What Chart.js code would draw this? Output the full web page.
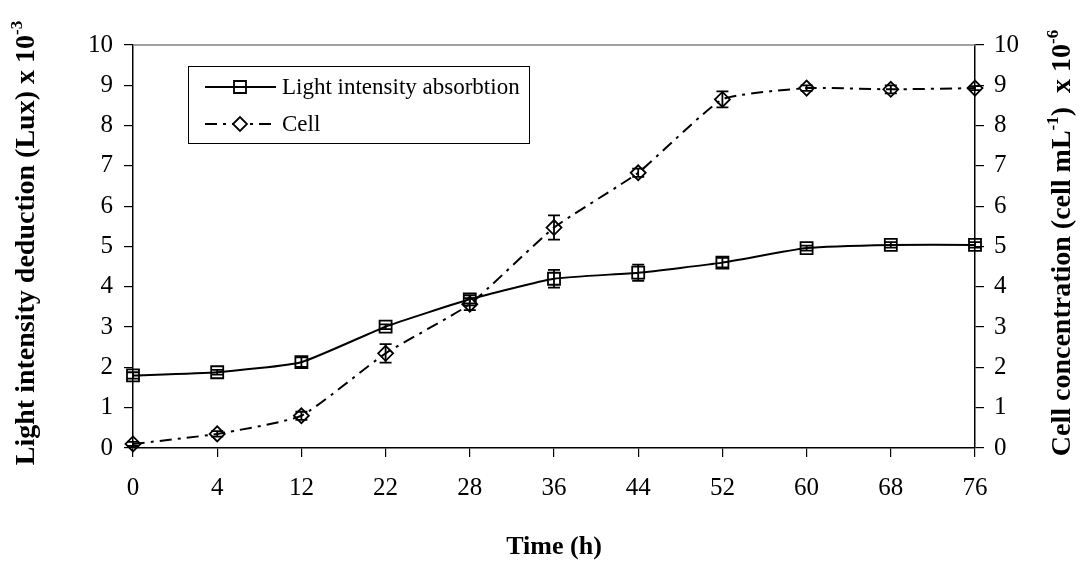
<!DOCTYPE html>
<html>
<head>
<meta charset="utf-8">
<title>Light intensity deduction and cell concentration</title>
<script src="https://cdn.jsdelivr.net/npm/chart.js@4.4.0/dist/chart.umd.min.js"></script>
<style>
  html, body { margin: 0; padding: 0; background: #fff; }
  #chart { display: block; }
</style>
</head>
<body>
<canvas id="chart" width="1081" height="563"></canvas>
<script>
// time points (h)
const hours = ['0', '4', '12', '22', '28', '36', '44', '52', '60', '68', '76'];

// light intensity deduction (Lux x 10^-3)
const light = [1.80, 1.88, 2.13, 3.01, 3.69, 4.20, 4.35, 4.60, 4.96, 5.04, 5.04];
const lightErr = [0.08, 0.06, 0.12, 0.06, 0.10, 0.22, 0.20, 0.12, 0.06, 0.07, 0.07];

// cell concentration (cell/mL x 10^-6)
const cell = [0.10, 0.35, 0.80, 2.35, 3.57, 5.47, 6.83, 8.65, 8.93, 8.90, 8.93];
const cellErr = [0.05, 0.07, 0.10, 0.23, 0.15, 0.30, 0.10, 0.20, 0.07, 0.10, 0.05];

const yTicks = [0, 1, 2, 3, 4, 5, 6, 7, 8, 9, 10];

const serif = '"Liberation Serif", "Times New Roman", serif';

const errorBars = {
    id: 'errorBars',
    afterDatasetsDraw(chart) {
        const ctx = chart.ctx;
        const xs = chart.scales.x;
        const sets = [
            [light, lightErr, chart.scales.y],
            [cell, cellErr, chart.scales.y2]
        ];
        ctx.save();
        ctx.strokeStyle = '#000';
        ctx.lineWidth = 1.8;
        sets.forEach(([vals, errs, ys]) => {
            vals.forEach((v, i) => {
                const px = xs.getPixelForValue(i);
                const top = ys.getPixelForValue(v + errs[i]);
                const bot = ys.getPixelForValue(v - errs[i]);
                ctx.beginPath();
                ctx.moveTo(px, top);
                ctx.lineTo(px, bot);
                ctx.moveTo(px - 6, top);
                ctx.lineTo(px + 6, top);
                ctx.moveTo(px - 6, bot);
                ctx.lineTo(px + 6, bot);
                ctx.stroke();
            });
        });
        ctx.restore();
    }
};

// rotated axis title with superscripts
const drawSideTitle = (ctx, cx, cy, parts) => {
    const big = 'bold 28px ' + serif;
    const small = 'bold 17px ' + serif;
    ctx.save();
    ctx.translate(cx, cy);
    ctx.rotate(-Math.PI / 2);
    let total = 0;
    parts.forEach(p => {
        ctx.font = p.sup ? small : big;
        p.w = ctx.measureText(p.text).width;
        total += p.w;
    });
    let pos = -total / 2;
    ctx.fillStyle = '#000';
    ctx.textBaseline = 'alphabetic';
    parts.forEach(p => {
        ctx.font = p.sup ? small : big;
        ctx.fillText(p.text, pos, p.sup ? -3 : 9);
        pos += p.w;
    });
    ctx.restore();
};

const titles = {
    id: 'titles',
    afterDraw(chart) {
        const { ctx, chartArea: a } = chart;
        ctx.save();
        // top frame line
        ctx.strokeStyle = '#808080';
        ctx.lineWidth = 1.5;
        ctx.beginPath();
        ctx.moveTo(a.left, a.top);
        ctx.lineTo(a.right, a.top);
        ctx.stroke();

        ctx.fillStyle = '#000';
        ctx.font = 'bold 26px ' + serif;
        ctx.textAlign = 'center';
        ctx.textBaseline = 'middle';
        ctx.fillText('Time (h)', (a.left + a.right) / 2, 547);
        ctx.restore();

        drawSideTitle(ctx, 25, 243, [
            { text: 'Light intensity deduction (Lux) x 10' },
            { text: '-3', sup: true }
        ]);
        drawSideTitle(ctx, 1061, 243, [
            { text: 'Cell concentration (cell mL' },
            { text: '-1', sup: true },
            { text: ')  x 10' },
            { text: '-6', sup: true }
        ]);
    }
};

const legendBox = {
    id: 'legendBox',
    afterDraw(chart) {
        const { ctx, chartArea: a } = chart;
        const bx = a.left + 55, by = a.top + 21, bw = 341, bh = 77;
        ctx.save();
        ctx.fillStyle = '#fff';
        ctx.fillRect(bx, by, bw, bh);
        ctx.strokeStyle = '#000';
        ctx.lineWidth = 1;
        ctx.strokeRect(bx + 0.5, by + 0.5, bw, bh);
        chart.data.datasets.forEach((ds, i) => {
            const y = by + 21 + i * 37;
            const mx = bx + 52;
            ctx.strokeStyle = '#000';
            ctx.lineWidth = 2;
            ctx.setLineDash(ds.borderDash || []);
            ctx.beginPath();
            ctx.moveTo(bx + 17, y);
            ctx.lineTo(bx + 88, y);
            ctx.stroke();
            ctx.setLineDash([]);
            ctx.lineWidth = 1.8;
            ctx.beginPath();
            if (ds.pointStyle === 'rect') {
                ctx.rect(mx - 6, y - 6, 12, 12);
            } else {
                ctx.moveTo(mx - 7, y);
                ctx.lineTo(mx, y - 7);
                ctx.lineTo(mx + 7, y);
                ctx.lineTo(mx, y + 7);
                ctx.closePath();
                ctx.fillStyle = '#fff';
                ctx.fill();
            }
            ctx.stroke();
            ctx.fillStyle = '#000';
            ctx.font = '23px ' + serif;
            ctx.textBaseline = 'middle';
            ctx.fillText(ds.label, bx + 94, y + 1);
        });
        ctx.restore();
    }
};

const axisGrid = {
    display: true,
    drawOnChartArea: false,
    drawTicks: true,
    tickLength: 9,
    color: '#000',
    lineWidth: 1.2
};

const tickFont = { family: serif, size: 25 };

const ctx = document.getElementById('chart').getContext('2d');
new Chart(ctx, {
    type: 'line',
    data: {
        labels: hours,
        datasets: [
            {
                label: 'Light intensity absorbtion',
                data: light,
                yAxisID: 'y',
                borderColor: '#000',
                borderWidth: 2,
                pointStyle: 'rect',
                pointRadius: 8.5,
                pointBorderWidth: 1.8,
                pointBorderColor: '#000',
                pointBackgroundColor: 'rgba(0,0,0,0)',
                tension: 0.15,
                clip: false
            },
            {
                label: 'Cell',
                data: cell,
                yAxisID: 'y2',
                borderColor: '#000',
                borderWidth: 2,
                borderDash: [12, 6, 3, 6],
                pointStyle: 'rectRot',
                pointRadius: 7.5,
                pointBorderWidth: 1.8,
                pointBorderColor: '#000',
                pointBackgroundColor: 'rgba(0,0,0,0)',
                tension: 0.15,
                clip: false
            }
        ]
    },
    options: {
        responsive: false,
        animation: false,
        layout: { padding: { top: 45, left: 0, right: 0, bottom: 0 } },
        plugins: {
            legend: { display: false },
            tooltip: { enabled: false }
        },
        scales: {
            x: {
                type: 'category',
                offset: false,
                grid: axisGrid,
                border: { display: true, color: '#000', width: 1.5 },
                ticks: { font: tickFont, color: '#000', padding: 16, maxRotation: 0, autoSkip: false },
                afterFit(scale) { scale.height = 115; }
            },
            y: {
                position: 'left',
                min: 0,
                max: 10,
                grid: axisGrid,
                border: { display: true, color: '#000', width: 1.5 },
                ticks: { font: tickFont, color: '#000', padding: 11, stepSize: 1 },
                afterBuildTicks(scale) { scale.ticks = yTicks.map(v => ({ value: v })); },
                afterFit(scale) { scale.width = 133; }
            },
            y2: {
                position: 'right',
                min: 0,
                max: 10,
                grid: axisGrid,
                border: { display: true, color: '#000', width: 1.5 },
                ticks: { font: tickFont, color: '#000', padding: 10, stepSize: 1 },
                afterBuildTicks(scale) { scale.ticks = yTicks.map(v => ({ value: v })); },
                afterFit(scale) { scale.width = 106; }
            }
        }
    },
    plugins: [errorBars, titles, legendBox]
});
</script>
</body>
</html>
